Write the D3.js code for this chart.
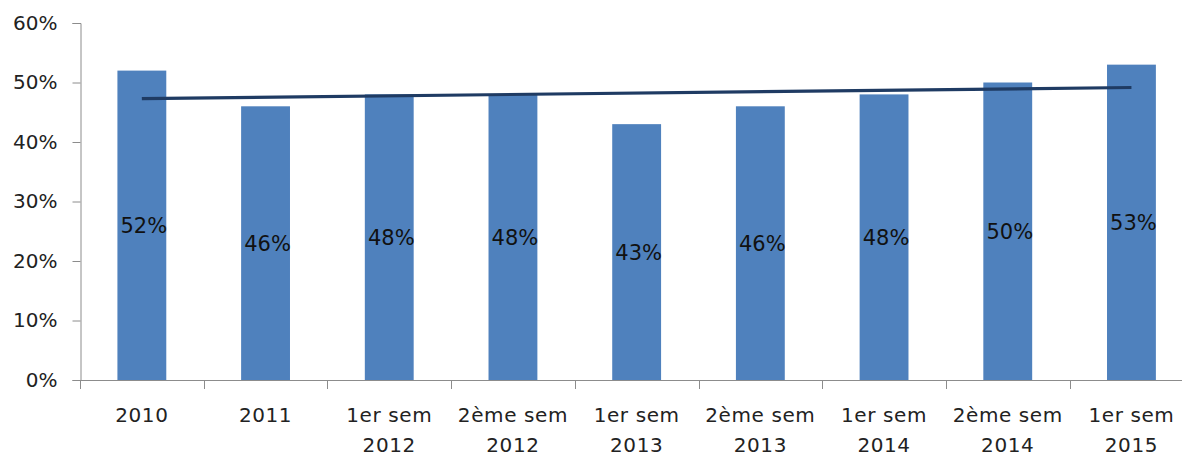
<!DOCTYPE html>
<html>
<head>
<meta charset="utf-8">
<script src="https://cdn.jsdelivr.net/npm/d3@7"></script>
<style>
  body { margin: 0; background: #fff; }
  svg text { font-family: "DejaVu Sans", sans-serif; }
</style>
</head>
<body>
<div id="chart"></div>
<script>
// values
var periodes = ["2010", "2011", "1er sem|2012", "2ème sem|2012", "1er sem|2013",
                "2ème sem|2013", "1er sem|2014", "2ème sem|2014", "1er sem|2015"];
var taux = [0.52, 0.46, 0.48, 0.48, 0.43, 0.46, 0.48, 0.50, 0.53];
var yTicks = [0, 0.1, 0.2, 0.3, 0.4, 0.5, 0.6];

var width = 1182, height = 454;
var plotLeft = 80, plotTop = 23, plotBottom = 380;
var band = 123.7;

var svg = d3.select("#chart").append("svg")
  .attr("width", width)
  .attr("height", height);

var x = d3.scaleBand()
  .domain(periodes)
  .range([plotLeft, plotLeft + band * periodes.length])
  .padding(0);

var y = d3.scaleLinear()
  .domain([0, 0.6])
  .range([plotBottom, plotTop]);

var barW = x.bandwidth() * 0.395;

// bars
svg.append("g").selectAll("rect")
  .data(taux)
  .enter()
  .append("rect")
  .attr("x", function(d, i) { return x(periodes[i]) + (x.bandwidth() - barW) / 2; })
  .attr("y", function(d) { return y(d); })
  .attr("width", barW)
  .attr("height", function(d) { return y(0) - y(d); })
  .style("fill", "#4f81bd");

// value labels in the middle of the bars
svg.append("g").selectAll("text")
  .data(taux)
  .enter()
  .append("text")
  .attr("x", function(d, i) { return x(periodes[i]) + x.bandwidth() / 2 + 2; })
  .attr("y", function(d) { return y(d / 2); })
  .attr("dy", "0.36em")
  .attr("text-anchor", "middle")
  .style("font-size", "21px")
  .style("fill", "#111")
  .text(d3.format(".0%"));

// linear trend
var n = taux.length;
var mx = d3.mean(taux, function(d, i) { return i; });
var my = d3.mean(taux);
var sxy = d3.sum(taux, function(d, i) { return (i - mx) * (d - my); });
var sxx = d3.sum(taux, function(d, i) { return (i - mx) * (i - mx); });
var slope = sxy / sxx, inter = my - slope * mx;
var trend = [0, n - 1].map(function(i) { return [x(periodes[i]) + x.bandwidth() / 2, y(inter + slope * i)]; });

svg.append("path")
  .attr("d", d3.line()(trend))
  .style("fill", "none")
  .style("stroke", "#1f3b63")
  .style("stroke-width", 3.2);

// y axis
var yAxis = svg.append("g")
  .attr("transform", "translate(" + (plotLeft + 0.5) + ",0)")
  .call(d3.axisLeft(y).tickValues(yTicks).tickFormat(d3.format(".0%"))
        .tickSize(8).tickSizeOuter(8).tickPadding(15));
yAxis.selectAll("path, line").style("stroke", "#8c8c8c");
yAxis.selectAll("text")
  .style("font-size", "20px")
  .style("fill", "#222")
  .style("font-family", "DejaVu Sans, sans-serif");

// x axis
var xg = svg.append("g");
xg.append("line")
  .attr("x1", plotLeft).attr("x2", width)
  .attr("y1", y(0) + 0.5).attr("y2", y(0) + 0.5)
  .style("stroke", "#8c8c8c");
xg.selectAll("line.tick")
  .data(periodes)
  .enter()
  .append("line")
  .attr("class", "tick")
  .attr("x1", function(d) { return Math.round(x(d)) + 0.5; })
  .attr("x2", function(d) { return Math.round(x(d)) + 0.5; })
  .attr("y1", y(0))
  .attr("y2", y(0) + 9)
  .style("stroke", "#8c8c8c");

var xl = xg.selectAll("text")
  .data(periodes)
  .enter()
  .append("text")
  .attr("text-anchor", "middle")
  .style("font-size", "20px")
  .style("fill", "#222")
  .style("letter-spacing", "0.6px");
xl.each(function(d) {
  var t = d3.select(this);
  var cx = x(d) + x.bandwidth() / 2;
  d.split("|").forEach(function(part, k) {
    t.append("tspan")
      .attr("x", cx)
      .attr("y", 422 + k * 30)
      .text(part);
  });
});
</script>
</body>
</html>
